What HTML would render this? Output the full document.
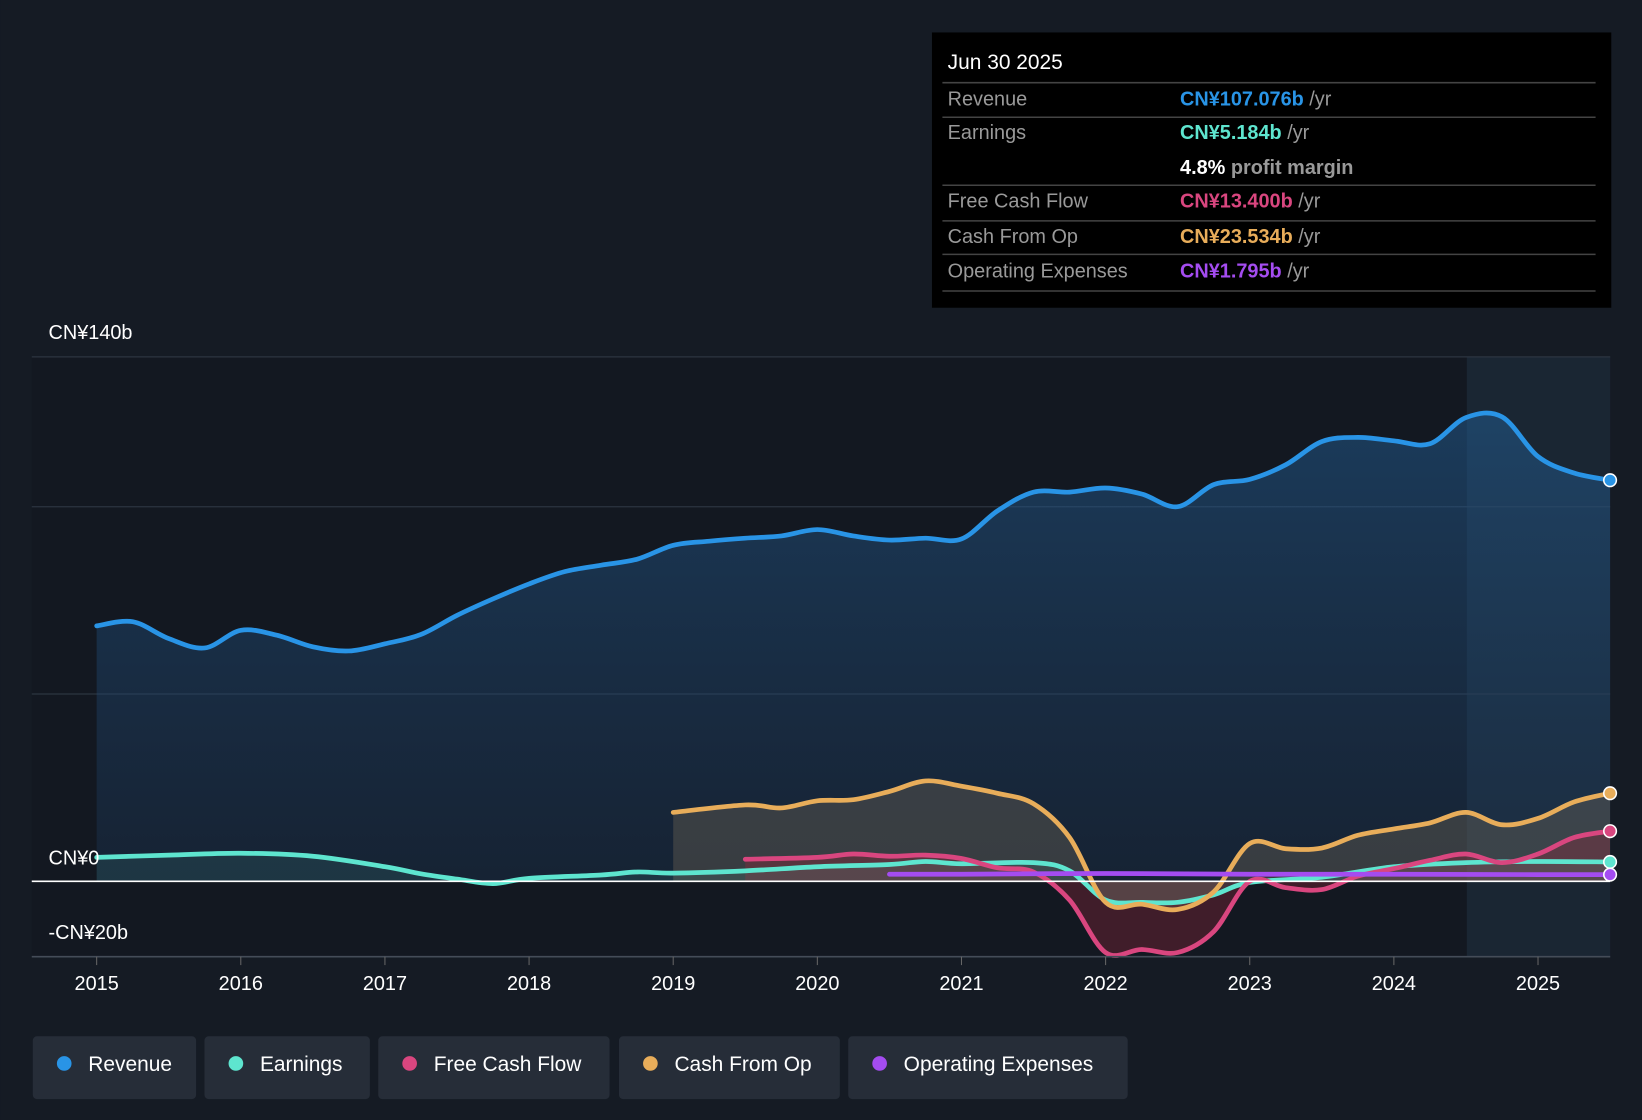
<!DOCTYPE html>
<html><head><meta charset="utf-8"><style>
html,body{margin:0;padding:0;background:#151b24;}
svg{display:block;font-family:"Liberation Sans","Noto Sans CJK SC",sans-serif;}
</style></head><body>
<svg id="chart" width="1642" height="1120" viewBox="0 0 1568 1070" xmlns="http://www.w3.org/2000/svg">
<defs><linearGradient id="revGrad" x1="0" y1="0" x2="0" y2="1">
<stop offset="0" stop-color="rgba(35,95,150,0.5)"/><stop offset="1" stop-color="rgba(30,60,95,0.3)"/></linearGradient></defs>
<rect x="0" y="0" width="1568" height="1070" fill="#151b24"/>
<rect x="30" y="341" width="1508" height="573" fill="#131821"/>
<rect x="1401" y="341" width="137" height="573" fill="#1a2633"/>
<g id="grid"></g>
<g id="series"></g>
<g id="axis"></g>
<text x="46" y="324" fill="#fff" font-size="19">CN¥140b</text>
<text x="46" y="826" fill="#fff" font-size="19">CN¥0</text>
<text x="46" y="897" fill="#fff" font-size="19">-CN¥20b</text>
<g>
<rect x="890" y="31" width="649" height="263" fill="#000"/>
<text x="905" y="66" fill="#fff" font-size="20">Jun 30 2025</text>
<g stroke="#444" stroke-width="1.5">
<line x1="900" y1="79" x2="1524" y2="79"/><line x1="900" y1="112" x2="1524" y2="112"/>
<line x1="900" y1="177" x2="1524" y2="177"/><line x1="900" y1="211" x2="1524" y2="211"/>
<line x1="900" y1="243" x2="1524" y2="243"/><line x1="900" y1="278" x2="1524" y2="278"/></g>
<g font-size="19" fill="#999">
<text x="905" y="101">Revenue</text><text x="905" y="133">Earnings</text>
<text x="905" y="198">Free Cash Flow</text><text x="905" y="232">Cash From Op</text><text x="905" y="265">Operating Expenses</text></g>
<g font-size="19" font-weight="bold">
<text x="1127" y="101" fill="#2994e6">CN¥107.076b <tspan fill="#999" font-weight="normal">/yr</tspan></text>
<text x="1127" y="133" fill="#5ee5cf">CN¥5.184b <tspan fill="#999" font-weight="normal">/yr</tspan></text>
<text x="1127" y="166" fill="#fff">4.8% <tspan fill="#999">profit margin</tspan></text>
<text x="1127" y="198" fill="#d9467f">CN¥13.400b <tspan fill="#999" font-weight="normal">/yr</tspan></text>
<text x="1127" y="232" fill="#e8ad5a">CN¥23.534b <tspan fill="#999" font-weight="normal">/yr</tspan></text>
<text x="1127" y="265" fill="#a44cf0">CN¥1.795b <tspan fill="#999" font-weight="normal">/yr</tspan></text></g>
</g>
<g id="legend"></g>
</svg>
<script>
const revYears=[2015,2015.25,2015.5,2015.75,2016,2016.25,2016.5,2016.75,2017,2017.25,2017.5,2017.75,2018,2018.25,2018.5,2018.75,2019,2019.25,2019.5,2019.75,2020,2020.25,2020.5,2020.75,2021,2021.25,2021.5,2021.75,2022,2022.25,2022.5,2022.75,2023,2023.25,2023.5,2023.75,2024,2024.25,2024.5,2024.75,2025,2025.25,2025.5];
const revenue=[68.2,69.3,64.8,62.3,67,65.7,62.6,61.5,63.4,65.9,71,75.4,79.4,82.7,84.4,86,89.7,90.8,91.6,92.2,93.9,92.2,91.1,91.6,91.4,98.9,103.9,103.9,105,103.4,100,105.9,107.3,111.2,117.4,118.5,117.6,116.8,123.8,124,113.4,109,107.08];
const earnYears=[2015,2015.5,2016,2016.5,2017,2017.25,2017.5,2017.75,2018,2018.5,2018.75,2019,2019.5,2020,2020.5,2020.75,2021,2021.5,2021.75,2022,2022.25,2022.5,2022.75,2023,2023.5,2024,2024.5,2025,2025.5];
const earnings=[6.4,7,7.5,6.7,3.9,2,0.6,-0.6,0.8,1.7,2.5,2.2,2.8,3.9,4.5,5.3,4.7,5,2.8,-5,-5.6,-5.6,-3.6,-0.3,1.1,3.9,5,5.3,5.18];
const cfoYears=[2019,2019.5,2019.75,2020,2020.25,2020.5,2020.75,2021,2021.25,2021.5,2021.75,2022,2022.25,2022.5,2022.75,2023,2023.25,2023.5,2023.75,2024,2024.25,2024.5,2024.75,2025,2025.25,2025.5];
const cashFromOp=[18.4,20.4,19.6,21.5,21.8,24,26.8,25.4,23.5,20.7,11.7,-5.6,-6.1,-7.5,-2.8,10.1,8.7,8.9,12.3,14,15.6,18.4,15.1,16.8,21.2,23.53];
const fcfYears=[2019.5,2020,2020.25,2020.5,2020.75,2021,2021.25,2021.5,2021.75,2022,2022.25,2022.5,2022.75,2023,2023.25,2023.5,2023.75,2024,2024.25,2024.5,2024.75,2025,2025.25,2025.5];
const freeCashFlow=[5.9,6.4,7.3,6.7,7,6.1,3.6,2.5,-5,-19,-18.2,-19,-13.4,0,-1.7,-2.2,1.4,3.4,5.6,7.3,5,7.3,11.7,13.4];
const opexYears=[2020.5,2021,2022,2023,2024,2025,2025.5];
const opex=[1.9,1.9,2.1,1.9,1.9,1.8,1.8];
const xTicks=[2015,2016,2017,2018,2019,2020,2021,2022,2023,2024,2025];
const gridVals=[140,100,50];
const legendNames=["Revenue","Earnings","Free Cash Flow","Cash From Op","Operating Expenses"];

const NS="http://www.w3.org/2000/svg";
const X=y=>92+(y-2015)*137.7;
const Y=v=>842-v*3.579;
function mk(tag,attrs,parent){const e=document.createElementNS(NS,tag);for(const k in attrs)e.setAttribute(k,attrs[k]);parent.appendChild(e);return e;}
function curve(xs,vs){const p=xs.map((x,i)=>[X(x),Y(vs[i])]);let d=`M${p[0][0]},${p[0][1]}`;
for(let i=0;i<p.length-1;i++){const p0=p[i-1]||p[i],p1=p[i],p2=p[i+1],p3=p[i+2]||p2;
const c1=[p1[0]+(p2[0]-p0[0])/6,p1[1]+(p2[1]-p0[1])/6],c2=[p2[0]-(p3[0]-p1[0])/6,p2[1]-(p3[1]-p1[1])/6];
d+=`C${c1[0]},${c1[1]} ${c2[0]},${c2[1]} ${p2[0]},${p2[1]}`;}return d;}
const grid=document.getElementById('grid'),ser=document.getElementById('series'),axis=document.getElementById('axis'),leg=document.getElementById('legend');
gridVals.forEach(v=>{const l=mk('line',{x1:30,x2:1538,y1:Y(v),y2:Y(v),stroke:'#2c3440','stroke-width':1.2},grid);

});
function area(xs,vs,fill,name){const d=curve(xs,vs)+`L${X(xs[xs.length-1])},${Y(0)}L${X(xs[0])},${Y(0)}Z`;const a=mk('path',{d,fill},ser);

}
function line(xs,vs,col,name){const l=mk('path',{d:curve(xs,vs),fill:'none',stroke:col,'stroke-width':4.5,'stroke-linecap':'round'},ser);


const c=mk('circle',{cx:X(xs[xs.length-1]),cy:Y(vs[vs.length-1]),r:6,fill:col,stroke:'#fff','stroke-width':1.5},ser);

}
area(revYears,revenue,'url(#revGrad)','revenue-area');
area(cfoYears,cashFromOp,'rgba(120,110,90,0.35)','cash-from-op-area');
area(fcfYears,freeCashFlow,'rgba(150,40,60,0.35)','free-cash-flow-area');
area(earnYears,earnings,'rgba(80,200,180,0.12)','earnings-area');
mk('line',{x1:30,x2:1538,y1:Y(0),y2:Y(0),stroke:'#fff','stroke-width':1.5},axis);
mk('line',{x1:30,x2:1538,y1:914,y2:914,stroke:'#444c58','stroke-width':1.5},axis);
line(revYears,revenue,'#2994e6','revenue-line');
line(earnYears,earnings,'#5ee5cf','earnings-line');
line(cfoYears,cashFromOp,'#e8ad5a','cash-from-op-line');
line(fcfYears,freeCashFlow,'#d9467f','free-cash-flow-line');
line(opexYears,opex,'#a44cf0','operating-expenses-line');
xTicks.forEach(t=>{const l=mk('line',{x1:X(t),x2:X(t),y1:914,y2:922,stroke:'#666','stroke-width':1},axis);


const tx=mk('text',{x:X(t),y:946,fill:'#fff','font-size':19,'text-anchor':'middle'},axis);tx.textContent=t;

});
const lcols=['#2994e6','#5ee5cf','#d9467f','#e8ad5a','#a44cf0'];const lx=[31,195,361,591,810],lw=[156,158,221,211,267];
legendNames.forEach((n,i)=>{const g=mk('g',{},leg);


mk('rect',{x:lx[i],y:990,width:lw[i],height:60,rx:4,fill:'#262d38'},g);
mk('circle',{cx:lx[i]+30,cy:1016,r:7,fill:lcols[i]},g);
const t=mk('text',{x:lx[i]+53,y:1023,fill:'#fff','font-size':20},g);t.textContent=n;});
</script>
</body></html>
